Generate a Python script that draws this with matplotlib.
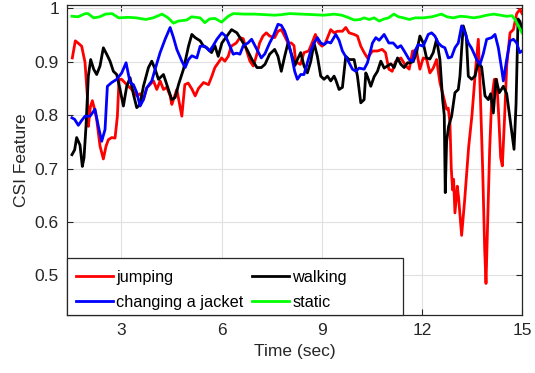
import numpy as np
import matplotlib
matplotlib.use('Agg')
import matplotlib.pyplot as plt
from matplotlib.patches import Rectangle

plt.rcParams['font.family'] = ['Liberation Sans', 'DejaVu Sans']

# (time, feature) points
jumping = [(1.53, 0.907), (1.62, 0.939), (1.7, 0.935), (1.81, 0.929), (1.91, 0.899), (1.98, 0.836),
           (2.01, 0.779), (2.07, 0.815), (2.13, 0.827), (2.2, 0.81), (2.26, 0.792), (2.36, 0.742),
           (2.46, 0.718), (2.54, 0.742), (2.61, 0.754), (2.71, 0.758), (2.81, 0.757), (2.88, 0.798),
           (2.93, 0.867), (3.01, 0.867), (3.16, 0.857), (3.31, 0.848), (3.46, 0.836), (3.56, 0.84),
           (3.66, 0.829), (3.76, 0.851), (3.96, 0.864), (4.06, 0.848), (4.16, 0.864), (4.26, 0.848),
           (4.36, 0.852), (4.46, 0.836), (4.51, 0.82), (4.56, 0.829), (4.66, 0.848), (4.81, 0.798),
           (4.9, 0.857), (5.0, 0.86), (5.11, 0.849), (5.21, 0.836), (5.31, 0.85), (5.46, 0.861),
           (5.61, 0.857), (5.71, 0.873), (5.8, 0.889), (5.9, 0.898), (6.0, 0.907), (6.1, 0.901),
           (6.2, 0.91), (6.29, 0.929), (6.44, 0.935), (6.55, 0.945), (6.65, 0.943), (6.74, 0.923),
           (6.85, 0.901), (6.95, 0.892), (7.04, 0.91), (7.14, 0.935), (7.24, 0.948), (7.34, 0.954),
           (7.44, 0.948), (7.59, 0.945), (7.69, 0.957), (7.79, 0.96), (7.89, 0.948), (7.99, 0.935),
           (8.09, 0.935), (8.17, 0.93), (8.22, 0.9), (8.3, 0.897), (8.36, 0.895), (8.47, 0.917),
           (8.61, 0.92), (8.71, 0.935), (8.81, 0.951), (8.91, 0.935), (9.01, 0.929), (9.11, 0.935),
           (9.27, 0.96), (9.37, 0.954), (9.47, 0.957), (9.62, 0.957), (9.72, 0.964), (9.82, 0.954),
           (9.97, 0.951), (10.07, 0.948), (10.17, 0.929), (10.27, 0.917), (10.37, 0.907), (10.52, 0.92),
           (10.67, 0.92), (10.81, 0.923), (10.91, 0.917), (11.01, 0.886), (11.11, 0.882), (11.21, 0.9),
           (11.37, 0.907), (11.52, 0.892), (11.62, 0.886), (11.72, 0.92), (11.84, 0.92), (11.94, 0.886),
           (12.04, 0.907), (12.14, 0.905), (12.24, 0.879), (12.34, 0.888), (12.44, 0.904), (12.54, 0.861),
           (12.64, 0.836), (12.74, 0.811), (12.79, 0.813), (12.84, 0.786), (12.88, 0.70), (12.92, 0.66),
           (12.95, 0.68), (12.99, 0.617), (13.06, 0.667), (13.1, 0.645), (13.19, 0.575), (13.28, 0.64),
           (13.4, 0.74), (13.5, 0.80), (13.6, 0.88), (13.69, 0.942), (13.75, 0.84), (13.82, 0.70),
           (13.88, 0.55), (13.92, 0.485), (13.97, 0.60), (14.03, 0.736), (14.09, 0.829), (14.17, 0.867),
           (14.24, 0.867), (14.3, 0.80), (14.36, 0.72), (14.41, 0.705), (14.48, 0.80), (14.54, 0.892),
           (14.64, 0.954), (14.74, 0.96), (14.84, 0.99), (14.94, 0.998), (15.0, 0.99)]

walking = [(1.52, 0.726), (1.6, 0.735), (1.66, 0.758), (1.76, 0.744), (1.83, 0.704), (1.88, 0.72),
           (1.94, 0.779), (2.01, 0.873), (2.08, 0.904), (2.17, 0.886), (2.26, 0.876), (2.36, 0.892),
           (2.46, 0.926), (2.56, 0.914), (2.66, 0.901), (2.76, 0.882), (2.86, 0.876), (2.96, 0.848),
           (3.06, 0.817), (3.16, 0.854), (3.26, 0.87), (3.36, 0.839), (3.46, 0.814), (3.56, 0.82),
           (3.66, 0.854), (3.81, 0.889), (3.91, 0.901), (4.01, 0.886), (4.11, 0.867), (4.26, 0.876),
           (4.41, 0.848), (4.51, 0.829), (4.61, 0.833), (4.71, 0.857), (4.86, 0.886), (5.01, 0.929),
           (5.11, 0.951), (5.21, 0.945), (5.36, 0.939), (5.46, 0.929), (5.56, 0.926), (5.7, 0.917),
           (5.8, 0.93), (5.9, 0.91), (6.01, 0.935), (6.16, 0.948), (6.3, 0.96), (6.46, 0.954),
           (6.61, 0.939), (6.76, 0.923), (6.91, 0.904), (7.06, 0.889), (7.19, 0.889), (7.3, 0.895),
           (7.44, 0.914), (7.59, 0.923), (7.69, 0.91), (7.79, 0.882), (7.89, 0.91), (7.99, 0.935),
           (8.09, 0.915), (8.2, 0.893), (8.27, 0.904), (8.37, 0.917), (8.47, 0.892), (8.57, 0.879),
           (8.67, 0.9), (8.77, 0.935), (8.87, 0.91), (8.97, 0.873), (9.07, 0.867), (9.17, 0.873),
           (9.27, 0.864), (9.37, 0.873), (9.42, 0.866), (9.52, 0.848), (9.62, 0.852), (9.72, 0.91),
           (9.82, 0.904), (9.97, 0.904), (10.07, 0.873), (10.17, 0.823), (10.27, 0.829), (10.32, 0.879),
           (10.37, 0.872), (10.47, 0.854), (10.57, 0.872), (10.67, 0.882), (10.77, 0.901), (10.87, 0.888),
           (10.97, 0.892), (11.07, 0.896), (11.17, 0.889), (11.27, 0.907), (11.37, 0.895), (11.47, 0.889),
           (11.57, 0.898), (11.64, 0.898), (11.74, 0.9), (11.84, 0.917), (11.94, 0.948), (12.04, 0.935),
           (12.14, 0.907), (12.24, 0.905), (12.34, 0.917), (12.44, 0.942), (12.54, 0.904), (12.62, 0.83),
           (12.67, 0.8), (12.7, 0.655), (12.74, 0.75), (12.8, 0.779), (12.89, 0.798), (12.99, 0.842),
           (13.09, 0.848), (13.14, 0.873), (13.19, 0.923), (13.24, 0.967), (13.33, 0.948), (13.39, 0.873),
           (13.49, 0.867), (13.59, 0.873), (13.69, 0.898), (13.79, 0.89), (13.89, 0.836), (13.99, 0.829),
           (14.06, 0.84), (14.14, 0.804), (14.22, 0.867), (14.32, 0.842), (14.44, 0.854), (14.54, 0.84),
           (14.64, 0.792), (14.76, 0.736), (14.82, 0.82), (14.88, 0.98), (14.94, 0.975), (15.0, 0.96)]

jacket = [(1.52, 0.795), (1.6, 0.792), (1.71, 0.781), (1.81, 0.79), (1.91, 0.798), (2.06, 0.798),
          (2.21, 0.811), (2.31, 0.779), (2.41, 0.751), (2.51, 0.773), (2.58, 0.854), (2.71, 0.861),
          (2.86, 0.867), (3.01, 0.879), (3.14, 0.898), (3.26, 0.861), (3.36, 0.857), (3.46, 0.842),
          (3.56, 0.817), (3.66, 0.829), (3.76, 0.851), (3.91, 0.864), (4.01, 0.886), (4.16, 0.917),
          (4.31, 0.942), (4.46, 0.964), (4.56, 0.945), (4.66, 0.923), (4.81, 0.901), (4.91, 0.889),
          (5.01, 0.904), (5.11, 0.911), (5.26, 0.907), (5.36, 0.929), (5.5, 0.929), (5.64, 0.92),
          (5.75, 0.93), (5.86, 0.942), (6.01, 0.954), (6.12, 0.948), (6.25, 0.929), (6.35, 0.914),
          (6.45, 0.916), (6.55, 0.914), (6.65, 0.93), (6.79, 0.935), (6.9, 0.942), (7.0, 0.93),
          (7.19, 0.907), (7.3, 0.915), (7.44, 0.935), (7.55, 0.948), (7.69, 0.97), (7.79, 0.968),
          (7.89, 0.957), (7.99, 0.939), (8.09, 0.913), (8.19, 0.882), (8.27, 0.867), (8.37, 0.876),
          (8.47, 0.876), (8.57, 0.898), (8.67, 0.92), (8.77, 0.935), (8.87, 0.945), (8.97, 0.935),
          (9.07, 0.932), (9.17, 0.937), (9.27, 0.935), (9.42, 0.951), (9.52, 0.94), (9.62, 0.92),
          (9.77, 0.904), (9.92, 0.886), (10.02, 0.882), (10.12, 0.888), (10.27, 0.886), (10.37, 0.898),
          (10.52, 0.935), (10.62, 0.945), (10.72, 0.94), (10.87, 0.951), (11.01, 0.935), (11.14, 0.935),
          (11.27, 0.926), (11.37, 0.93), (11.47, 0.92), (11.62, 0.904), (11.72, 0.901), (11.79, 0.92),
          (11.89, 0.932), (12.04, 0.929), (12.19, 0.951), (12.29, 0.954), (12.39, 0.948), (12.49, 0.935),
          (12.59, 0.929), (12.69, 0.926), (12.79, 0.907), (12.89, 0.909), (12.99, 0.926), (13.09, 0.935),
          (13.19, 0.967), (13.29, 0.954), (13.39, 0.935), (13.49, 0.925), (13.64, 0.904), (13.74, 0.895),
          (13.84, 0.915), (13.94, 0.942), (14.09, 0.945), (14.19, 0.951), (14.29, 0.926), (14.39, 0.886),
          (14.44, 0.864), (14.54, 0.904), (14.64, 0.939), (14.74, 0.942), (14.84, 0.935), (14.93, 0.917),
          (15.0, 0.92)]

static = [(1.52, 0.985), (1.7, 0.984), (1.92, 0.99), (2.0, 0.99), (2.17, 0.982), (2.35, 0.984),
          (2.52, 0.989), (2.72, 0.99), (2.92, 0.982), (3.2, 0.983), (3.45, 0.982), (3.73, 0.979),
          (3.95, 0.982), (4.22, 0.989), (4.4, 0.982), (4.56, 0.972), (4.7, 0.976), (4.96, 0.978),
          (5.1, 0.984), (5.36, 0.982), (5.5, 0.973), (5.64, 0.98), (5.8, 0.981), (6.0, 0.974),
          (6.2, 0.985), (6.35, 0.99), (6.7, 0.989), (7.0, 0.989), (7.3, 0.988), (7.59, 0.987),
          (7.8, 0.988), (8.04, 0.99), (8.4, 0.989), (8.75, 0.988), (9.07, 0.987), (9.37, 0.989),
          (9.6, 0.987), (9.82, 0.982), (9.97, 0.978), (10.15, 0.979), (10.27, 0.982), (10.42, 0.979),
          (10.57, 0.982), (10.72, 0.976), (10.87, 0.98), (11.0, 0.982), (11.16, 0.989), (11.3, 0.984),
          (11.45, 0.982), (11.62, 0.979), (11.8, 0.982), (12.04, 0.982), (12.3, 0.984), (12.59, 0.989),
          (12.75, 0.984), (12.94, 0.982), (13.15, 0.985), (13.35, 0.984), (13.55, 0.982), (13.75, 0.984),
          (13.94, 0.987), (14.15, 0.989), (14.35, 0.987), (14.54, 0.985), (14.7, 0.986), (14.79, 0.979),
          (14.89, 0.967), (15.0, 0.954)]

labels = ['jumping', 'walking', 'changing a jacket', 'static']
colors = ['#ff0000', '#000000', '#0000ff', '#00ff00']
x_ticks = [3, 6, 9, 12, 15]
y_ticks = [0.5, 0.6, 0.7, 0.8, 0.9, 1.0]
y_ticklabels = ['0.5', '0.6', '0.7', '0.8', '0.9', '1']

fig = plt.figure(figsize=(5.35, 3.73), dpi=100)
ax = fig.add_axes([0.1258, 0.1555, 0.85, 0.831])

handles = []
for data, lab, col in zip([jumping, walking, jacket, static], labels, colors):
    t, y = np.array(data).T
    h, = ax.plot(t, y, color=col, lw=2.0, label=lab)
    handles.append(h)

ax.set_xlim(1.38, 15)
ax.set_ylim(0.426, 1.006)
ax.set_xticks(x_ticks)
ax.set_yticks(y_ticks)
ax.set_yticklabels(y_ticklabels)
ax.grid(True, color='#e0e0e0', lw=0.8)
ax.set_axisbelow(True)
ax.tick_params(direction='in', length=4, width=0.8, top=True, right=True,
               labelsize=12.5, colors='#262626', pad=6)
for s in ax.spines.values():
    s.set_color('#262626')
    s.set_linewidth(0.9)

ax.set_xlabel('Time (sec)', fontsize=12.5, color='#262626', labelpad=4)
ax.set_ylabel('CSI Feature', fontsize=12.5, color='#262626', labelpad=4)

# MATLAB-style legend box: wider than its entries, so draw the frame separately
ax.add_patch(Rectangle((0, 0), 0.738, 0.184, transform=ax.transAxes, facecolor='white',
                       edgecolor='#262626', lw=0.9, zorder=4.5, clip_on=False))

# matplotlib fills legend columns first, MATLAB fills rows
order = [0, 2, 1, 3]
leg = ax.legend([handles[i] for i in order], [labels[i] for i in order],
                ncol=2, loc='lower left', bbox_to_anchor=(0.008, 0.0),
                fontsize=11.7, handlelength=2.3, handletextpad=0.2,
                columnspacing=0.5, labelspacing=0.62, borderpad=0.3,
                frameon=False, borderaxespad=0)
leg.set_zorder(5)

fig.savefig('out.png', dpi=100)
